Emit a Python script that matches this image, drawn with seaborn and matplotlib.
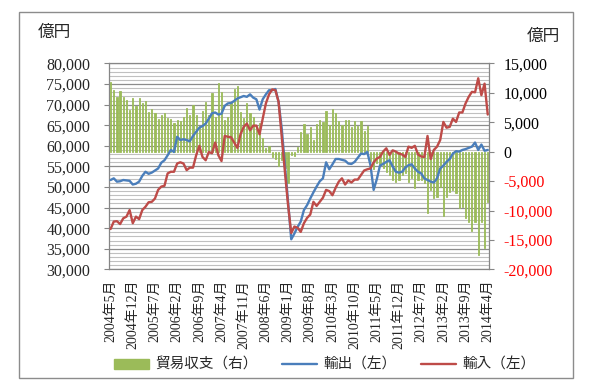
import numpy as np
import pandas as pd
import matplotlib
matplotlib.use("Agg")
import matplotlib.pyplot as plt
import matplotlib.transforms as mtransforms
from matplotlib.patches import Patch, Rectangle
from matplotlib.lines import Line2D
from matplotlib.ticker import MultipleLocator
import seaborn as sns

# monthly, 2004-05 .. 2014-04 (億円)
months = pd.period_range("2004-05", "2014-04", freq="M")
month_labels = [f"{p.year}年{p.month}月" for p in months]

exports = [
    51700, 52100, 51300, 51400, 51700, 51600, 51500, 50600, 50800, 51300,
    52700, 53700, 53200, 53500, 54000, 54500, 55900, 56500, 57700, 59000,
    58500, 62200, 61400, 61600, 61400, 61100, 62400, 63400, 64400, 64800,
    65400, 66600, 67900, 68100, 67600, 67800, 69700, 70300, 70400, 70900,
    71500, 71800, 72100, 71900, 72500, 71700, 71300, 68800, 71300, 72500,
    73500, 73500, 73800, 70700, 64200, 55300, 46400, 37300, 38700, 40300,
    41600, 44400, 45600, 47200, 48700, 50100, 51400, 52100, 56000, 54300,
    55500, 56800, 56800, 56600, 56400, 55700, 55600, 56100, 57100, 58100,
    58000, 58500, 55300, 49300, 51900, 55200, 55600, 56100, 56500, 55000,
    53700, 53500, 53700, 54700, 55300, 55500, 54500, 53700, 53300, 52100,
    51700, 51300, 51100, 52100, 54500, 55200, 56100, 56800, 58100, 58700,
    58600, 59000, 59200, 59500, 59800, 60800, 59000, 60300, 58800, 59000,
]

imports = [
    39800, 41600, 41700, 41000, 42400, 42800, 44400, 41200, 42800, 42200,
    44400, 45200, 46300, 46400, 47200, 49300, 50100, 50300, 53300, 53700,
    53700, 55700, 56000, 55700, 54100, 54700, 54700, 57700, 60000, 57300,
    56500, 58500, 58200, 60800, 57700, 56300, 62400, 62200, 62100, 60800,
    59500, 62800, 64600, 65400, 63800, 64900, 64900, 62800, 66600, 70300,
    72500, 73700, 73500, 70700, 62200, 53700, 45600, 38800, 40400, 40100,
    39100, 41200, 42500, 43300, 46400, 45400, 46400, 47400, 49300, 49000,
    48000, 49800, 51300, 52100, 50600, 51600, 51100, 51800, 51800, 52900,
    54000, 54300, 54500, 56000, 56900, 57300, 58600, 59400, 57800, 58900,
    58600, 58100, 57900, 57300, 59800, 59500, 60000, 57900, 57400, 57300,
    62400, 56800, 59000, 59800, 61400, 65800, 64400, 64600, 66600, 65800,
    68100, 68100, 70300, 71900, 73100, 73000, 76400, 72300, 75100, 67600,
]

balance = [
    11900, 10500, 9300, 10400, 9300, 8800, 7100, 9200, 7800, 9100,
    8300, 8600, 6800, 7200, 6600, 5600, 6300, 6600, 5800, 5600,
    4800, 5400, 5300, 5900, 7400, 6200, 7900, 6200, 4300, 7000,
    8500, 6200, 9900, 5900, 11600, 10200, 5400, 5900, 8500, 10700,
    11100, 6800, 5700, 8300, 6500, 5900, 4200, 4800, 2300, 700,
    950, -900, -1300, -2500, -1400, -2800, -5400, -500, -700, 800,
    3400, 4650, 3000, 4200, 2000, 4700, 5400, 5000, 6900, 4600,
    7250, 6500, 5200, 4600, 5400, 5400, 4200, 5300, 4400, 5300,
    3450, 4350, -1500, -3000, -2000, -2300, -2800, -3500, -4000, -4800,
    -5100, -4800, -4000, -3700, -5100, -4500, -6200, -4800, -4800, -5400,
    -10400, -6500, -7900, -7700, -6000, -10900, -7700, -6800, -6500, -7100,
    -9600, -9400, -11300, -11900, -13400, -11900, -17600, -11900, -16300, -8500,
]

df = pd.DataFrame({
    "pos": np.arange(len(months)),
    "label": month_labels,
    "exports": exports,
    "imports": imports,
    "balance": balance,
})

green = "#9BBB59"
blue = "#4A7EBB"
red = "#BE4B48"
axis_gray = "#868686"

sns.set_theme(style="white")
plt.rcParams["font.family"] = ["Liberation Serif", "Noto Sans CJK JP"]

fig = plt.figure(figsize=(5.96, 3.87), dpi=100)
ax = fig.add_axes([0.1829, 0.304, 0.6381, 0.532])
ax2 = ax.twinx()   # bars, right scale
ax3 = ax.twinx()   # lines, left scale (drawn on top)

# grid on the left scale
left_ticks = list(range(30000, 80001, 5000))
ax.set_ylim(30000, 80000)
ax.set_yticks(left_ticks, labels=[f"{v:,}" for v in left_ticks])
ax.yaxis.set_minor_locator(MultipleLocator(1000))
ax.grid(which="major", axis="y", color="#8c8c8c", lw=0.9)
ax.grid(which="minor", axis="y", color="#c0c0c0", lw=0.8)
ax.set_axisbelow(True)

# bars: trade balance
sns.barplot(data=df, x="pos", y="balance", ax=ax2, color=green,
            width=0.38, saturation=1, edgecolor=green, linewidth=0.6)
right_ticks = list(range(-20000, 15001, 5000))
ax2.set_ylim(-20000, 15000)
ax2.set_yticks(right_ticks, labels=[f"{v:,}" for v in right_ticks])
for lab, v in zip(ax2.get_yticklabels(), right_ticks):
    lab.set_color("#FF0000" if v < 0 else "black")
ax2.set_xlabel("")
ax2.set_ylabel("")

# lines: exports / imports
sns.lineplot(data=df, x="pos", y="exports", ax=ax3, color=blue, lw=1.7)
sns.lineplot(data=df, x="pos", y="imports", ax=ax3, color=red, lw=1.7)
ax3.set_ylim(30000, 80000)
ax3.yaxis.set_visible(False)
ax3.set_xlabel("")
ax3.set_ylabel("")

ax.set_xlim(-0.5, len(months) - 0.5)
ax.set_xticks(df["pos"][::7], labels=df["label"][::7], rotation=90)
offset = mtransforms.ScaledTranslation(0.065, 0, fig.dpi_scale_trans)
for lab in ax.get_xticklabels():
    lab.set_transform(lab.get_transform() + offset)

ax.tick_params(axis="y", which="major", left=True, direction="out", length=3.5,
               width=0.8, color=axis_gray, pad=10, labelsize=11.5)
ax.tick_params(axis="y", which="minor", length=0)
ax.tick_params(axis="x", bottom=False, length=0, pad=7.5, labelsize=10)
ax2.tick_params(axis="y", right=True, direction="out", length=3.5, width=0.8,
                color=axis_gray, pad=6.5, labelsize=11.5)

for s in ax.spines.values():
    s.set_color(axis_gray)
    s.set_linewidth(0.9)
ax.spines["right"].set_visible(False)
for s in ax3.spines.values():
    s.set_visible(False)
for name, s in ax2.spines.items():
    s.set_visible(name == "right")
    s.set_color(axis_gray)
    s.set_linewidth(0.9)

fig.text(0.064, 0.915, "億円", family=["Noto Sans CJK JP"], fontsize=12, va="center")
fig.text(0.884, 0.907, "億円", family=["Noto Sans CJK JP"], fontsize=12, va="center")

handles = [Patch(facecolor=green, edgecolor=green),
           Line2D([], [], color=blue, lw=1.7),
           Line2D([], [], color=red, lw=1.7)]
fig.legend(handles, ["貿易収支（右）", "輸出（左）", "輸入（左）"],
           loc="center", bbox_to_anchor=(0.545, 0.057), ncol=3, frameon=False,
           prop={"family": "Noto Sans CJK JP", "size": 10.5},
           handlelength=2.4, handletextpad=0.4, columnspacing=1.7)

fig.add_artist(Rectangle((19 / 596, 1 - 378 / 387), (573 - 19) / 596, (378 - 12) / 387,
                         transform=fig.transFigure, fill=False,
                         edgecolor="#8c8c8c", lw=1))

fig.savefig("out.png", dpi=100)
